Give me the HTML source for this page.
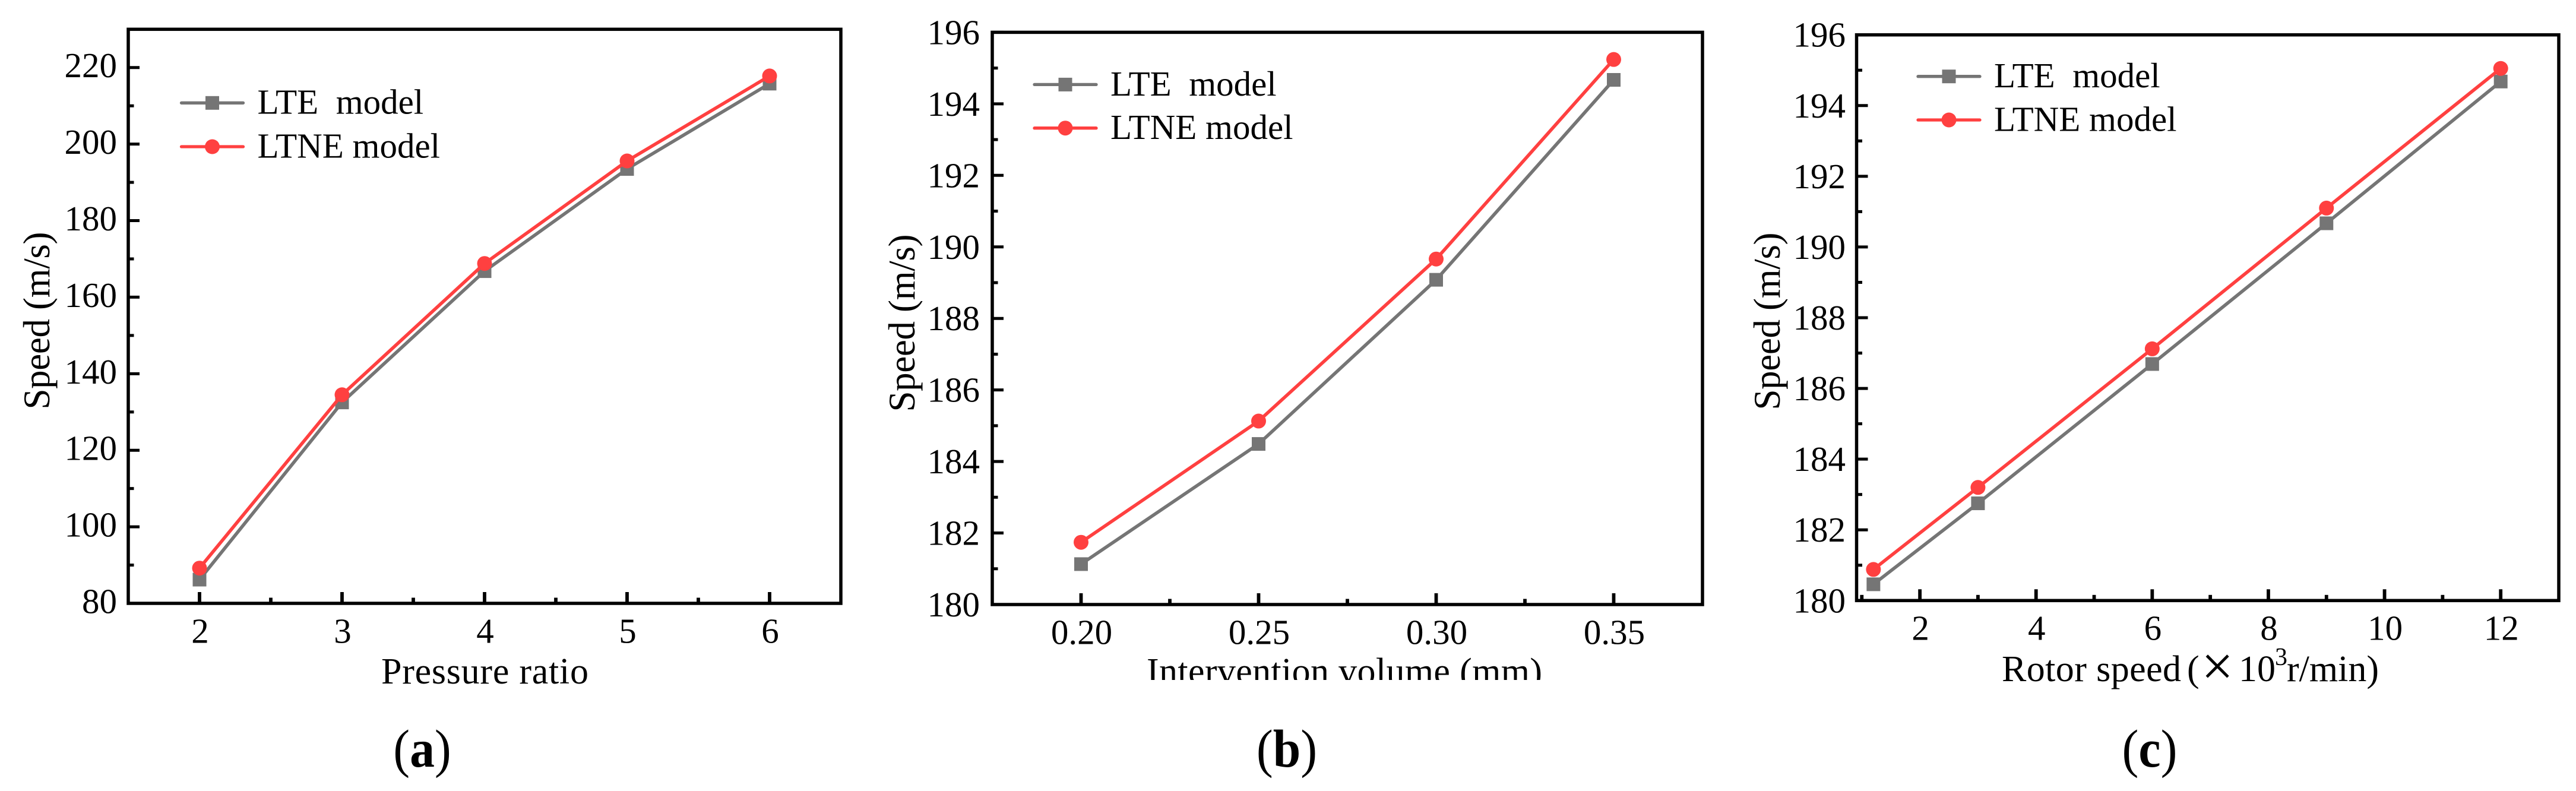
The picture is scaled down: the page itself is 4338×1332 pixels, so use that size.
<!DOCTYPE html>
<html lang="en">
<head>
<meta charset="utf-8">
<title>Speed versus pressure ratio, intervention volume and rotor speed</title>
<style>
html,body{margin:0;padding:0;background:#fff;width:4338px;height:1332px;overflow:hidden}
svg{display:block}
text{font-family:"Liberation Serif",serif;fill:#000;white-space:pre}
</style>
</head>
<body>
<svg id="figure" xmlns="http://www.w3.org/2000/svg" width="4338" height="1332" viewBox="0 0 4338 1332">
<defs><clipPath id="clip-b-title"><rect x="1800" y="1060" width="900" height="85"/></clipPath></defs>
<rect width="4338" height="1332" fill="#fff"/>
<g id="panel-a">
  <text transform="translate(83,540) rotate(-90)" text-anchor="middle" font-size="63" textLength="299">Speed (m/s)</text>
  <text x="642" y="1151" font-size="62" textLength="349">Pressure ratio</text>
  <text transform="translate(711,1291) scale(0.93,1)" text-anchor="middle" font-size="90">(<tspan font-weight="bold">a</tspan>)</text>
</g>
<g id="panel-b">
  <text transform="translate(1540,544) rotate(-90)" text-anchor="middle" font-size="63" textLength="299">Speed (m/s)</text>
  <g clip-path="url(#clip-b-title)">
    <text x="1931" y="1151" font-size="62" textLength="666">Intervention volume (mm)</text>
  </g>
  <text transform="translate(2167,1291) scale(0.93,1)" text-anchor="middle" font-size="90">(<tspan font-weight="bold">b</tspan>)</text>
</g>
<g id="panel-c">
  <text transform="translate(2997,541) rotate(-90)" text-anchor="middle" font-size="63" textLength="299">Speed (m/s)</text>
  <text y="1147" font-size="62"><tspan x="3371" textLength="302">Rotor speed</tspan><tspan x="3683">(</tspan><tspan x="3707" y="1154" font-size="96">×</tspan><tspan x="3770" y="1147">10</tspan><tspan x="3831" y="1120" font-size="42">3</tspan><tspan x="3851" y="1147">r/min)</tspan></text>
  <text transform="translate(3620,1291) scale(0.93,1)" text-anchor="middle" font-size="90">(<tspan font-weight="bold">c</tspan>)</text>
</g>
<script>
// Panel (a) data
const aCategories = [2, 3, 4, 5, 6];
const aLte = [86.2, 132.5, 166.8, 193.5, 215.8];
const aLtne = [89.2, 134.5, 168.8, 195.6, 217.8];
const aXTicks = [2, 3, 4, 5, 6];
const aXTickLabels = ['2', '3', '4', '5', '6'];
const aXMinor = [2.5, 3.5, 4.5, 5.5];
const aYTicks = [80, 100, 120, 140, 160, 180, 200, 220];
const aYMinor = [90, 110, 130, 150, 170, 190, 210];

// Panel (b) data
const bCategories = [0.20, 0.25, 0.30, 0.35];
const bLte = [181.13, 184.49, 189.08, 194.67];
const bLtne = [181.74, 185.13, 189.66, 195.24];
const bXTicks = [0.20, 0.25, 0.30, 0.35];
const bXTickLabels = ['0.20', '0.25', '0.30', '0.35'];
const bXMinor = [0.225, 0.275, 0.325];
const bYTicks = [180, 182, 184, 186, 188, 190, 192, 194, 196];
const bYMinor = [181, 183, 185, 187, 189, 191, 193, 195];

// Panel (c) data
const cCategories = [1.2, 3, 6, 9, 12];
const cLte = [180.46, 182.75, 186.69, 190.67, 194.68];
const cLtne = [180.88, 183.2, 187.12, 191.1, 195.05];
const cXTicks = [2, 4, 6, 8, 10, 12];
const cXTickLabels = ['2', '4', '6', '8', '10', '12'];
const cXMinor = [1, 3, 5, 7, 9, 11];
const cYTicks = [180, 182, 184, 186, 188, 190, 192, 194, 196];
const cYMinor = [181, 183, 185, 187, 189, 191, 193, 195];

const seriesNames = ['LTE  model', 'LTNE model'];
const GRAY = '#757575';
const RED = '#ff4040';
const NS = 'http://www.w3.org/2000/svg';

function make(tag, parent, attrs) {
  const el = document.createElementNS(NS, tag);
  for (const k in attrs) el.setAttribute(k, attrs[k]);
  parent.appendChild(el);
  return el;
}

function drawPanel(id, box, xRange, yRange, cats, lte, ltne, xTicks, xLabels, xMinor, yTicks, yMinor, legend) {
  const g = document.getElementById('panel-' + id);
  const x = function (v) { return box.left + (v - xRange[0]) / (xRange[1] - xRange[0]) * (box.right - box.left); };
  const y = function (v) { return box.bottom - (v - yRange[0]) / (yRange[1] - yRange[0]) * (box.bottom - box.top); };

  xTicks.forEach(function (t, i) {
    const tick = make('line', g, { x1: x(t), x2: x(t), y1: box.bottom, y2: box.bottom - 19, stroke: '#000', 'stroke-width': 5.8 });
    
    
    const label = make('text', g, { x: x(t) + 1, y: box.xLabelY, 'text-anchor': 'middle', 'font-size': 59 });
    label.textContent = xLabels[i];
    
    
  });
  xMinor.forEach(function (t) {
    const tick = make('line', g, { x1: x(t), x2: x(t), y1: box.bottom, y2: box.bottom - 9.5, stroke: '#000', 'stroke-width': 5.8 });
    
    
  });
  yTicks.forEach(function (t) {
    const tick = make('line', g, { x1: box.left, x2: box.left + 19, y1: y(t), y2: y(t), stroke: '#000', 'stroke-width': 5 });
    
    
    const label = make('text', g, { x: box.yLabelX, y: y(t) + box.yLabelDy, 'text-anchor': 'end', 'font-size': 59 });
    label.textContent = String(t);
    
    
  });
  yMinor.forEach(function (t) {
    const tick = make('line', g, { x1: box.left, x2: box.left + 9.5, y1: y(t), y2: y(t), stroke: '#000', 'stroke-width': 5 });
    
    
  });

  const frame = make('rect', g, { x: box.left, y: box.top, width: box.right - box.left, height: box.bottom - box.top, fill: 'none', stroke: '#000', 'stroke-width': 5.5 });
  
  

  const ptsOf = function (vals) {
    return vals.map(function (v, i) { return x(cats[i]) + ',' + y(v); }).join(' ');
  };
  const lteLine = make('polyline', g, { points: ptsOf(lte), fill: 'none', stroke: GRAY, 'stroke-width': 5.6, 'stroke-linejoin': 'round' });
  
  
  lte.forEach(function (v, i) {
    const m = make('rect', g, { x: x(cats[i]) - 11.5, y: y(v) - 11.5, width: 23, height: 23, fill: GRAY });
    
    
  });
  const ltneLine = make('polyline', g, { points: ptsOf(ltne), fill: 'none', stroke: RED, 'stroke-width': 5.6, 'stroke-linejoin': 'round' });
  
  
  ltne.forEach(function (v, i) {
    const m = make('circle', g, { cx: x(cats[i]), cy: y(v), r: 12.5, fill: RED });
    
    
  });

  // legend
  const lg = make('g', g, {});
  
  
  const l1 = make('line', lg, { x1: legend.x, x2: legend.x + 104, y1: legend.y1, y2: legend.y1, stroke: GRAY, 'stroke-width': 5.3, 'stroke-linecap': 'round' });
  
  
  const s1 = make('rect', lg, { x: legend.x + 52 - 11.5, y: legend.y1 - 11.5, width: 23, height: 23, fill: GRAY });
  
  
  const t1 = make('text', lg, { x: legend.x + 128, y: legend.y1 + 18.4, 'font-size': 59 });
  t1.textContent = seriesNames[0];
  
  
  const l2 = make('line', lg, { x1: legend.x, x2: legend.x + 104, y1: legend.y2, y2: legend.y2, stroke: RED, 'stroke-width': 5.3, 'stroke-linecap': 'round' });
  
  
  const s2 = make('circle', lg, { cx: legend.x + 52, cy: legend.y2, r: 12.5, fill: RED });
  
  
  const t2 = make('text', lg, { x: legend.x + 128, y: legend.y2 + 18.4, 'font-size': 59 });
  t2.textContent = seriesNames[1];
  
  
}

drawPanel('a',
  { left: 216, right: 1416, top: 49.3, bottom: 1016, xLabelY: 1082.3, yLabelX: 197, yLabelDy: 16.5 },
  [1.5, 6.5], [80, 230],
  aCategories, aLte, aLtne, aXTicks, aXTickLabels, aXMinor, aYTicks, aYMinor,
  { x: 305.5, y1: 173.3, y2: 247 });

drawPanel('b',
  { left: 1671, right: 2867, top: 54.4, bottom: 1018, xLabelY: 1084.3, yLabelX: 1650, yLabelDy: 20 },
  [0.175, 0.375], [180, 196],
  bCategories, bLte, bLtne, bXTicks, bXTickLabels, bXMinor, bYTicks, bYMinor,
  { x: 1742, y1: 142.4, y2: 215.7 });

drawPanel('c',
  { left: 3126.5, right: 4309, top: 58.7, bottom: 1011.3, xLabelY: 1077.3, yLabelX: 3108, yLabelDy: 20 },
  [0.91, 13], [180, 196],
  cCategories, cLte, cLtne, cXTicks, cXTickLabels, cXMinor, cYTicks, cYMinor,
  { x: 3230, y1: 128.7, y2: 202 });
</script>
</svg>
</body>
</html>
